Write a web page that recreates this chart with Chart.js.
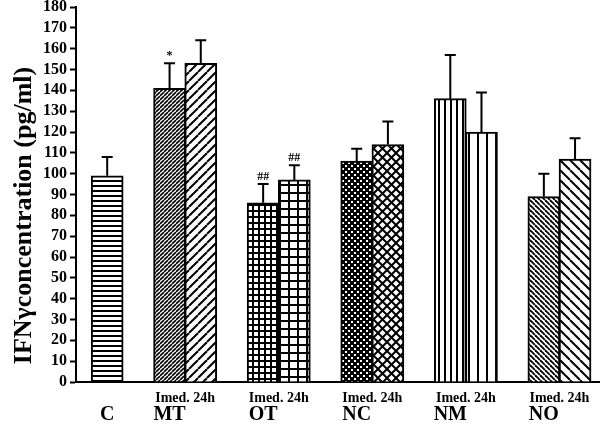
<!DOCTYPE html>
<html>
<head>
<meta charset="utf-8">
<script src="https://cdn.jsdelivr.net/npm/chart.js@4"></script>
<style>
  html, body { margin: 0; padding: 0; background: #fff; }
  canvas { display: block; }
</style>
</head>
<body>
<canvas id="ifnChart" width="600" height="433"></canvas>
<script>
// groups along the x axis; C is the single control bar
const groups = ['C', 'MT', 'OT', 'NC', 'NM', 'NO'];
const subLabel = 'Imed. 24h';

// IFN-gamma means (pg/ml) and upper SD, immediate and 24h
const imedValues = [99, 141, 86, 106, 136, 89];
const imedErrors = [9, 12, 9, 6, 21, 11];
const h24Values = [null, 153, 97, 114, 120, 107];
const h24Errors = [null, 11, 7, 11, 19, 10];

// significance marks above the error bars
const imedMarks = ['', '*', '##', '', '', ''];
const h24Marks = ['', '', '##', '', '', ''];

const yMax = 180;
const yStep = 10;
const yTitle = 'IFNγconcentration (pg/ml)';

const serif = '"Liberation Serif", "Times New Roman", serif';

/**
 * Black and white hatch fills
 */
function tile(w, h, draw) {
    const c = document.createElement('canvas');
    c.width = w;
    c.height = h;
    const g = c.getContext('2d');
    g.fillStyle = '#fff';
    g.fillRect(0, 0, w, h);
    g.fillStyle = '#000';
    g.strokeStyle = '#000';
    draw(g, w, h);
    return g.createPattern(c, 'repeat');
}

const hLines = (p, t) => tile(p, p, (g, w) => g.fillRect(0, 0, w, t));
const vLines = (p, t) => tile(p, p, (g, w, h) => g.fillRect(0, 0, t, h));
const grid = (pw, ph, t) => tile(pw, ph, (g, w, h) => {
    g.fillRect(0, 0, w, t);
    g.fillRect(0, 0, t, h);
});
const dots = (p, d) => tile(p, p, (g, w) => {
    g.fillRect(0, 0, w, w);
    g.fillStyle = '#fff';
    g.fillRect(0, 0, d, d);
    g.fillRect(w / 2, w / 2, d, d);
});
function strokeDiag(g, p, back) {
    for (let o = -p; o <= p; o += p) {
        g.beginPath();
        if (back) { g.moveTo(o, 0); g.lineTo(o + p, p); }
        else { g.moveTo(o, p); g.lineTo(o + p, 0); }
        g.stroke();
    }
}
const diag = (p, t, back) => tile(p, p, g => { g.lineWidth = t; strokeDiag(g, p, back); });
const diamonds = (p, t) => tile(p, p, g => {
    g.lineWidth = t;
    strokeDiag(g, p, false);
    strokeDiag(g, p, true);
});

const imedFills = [hLines(5, 2), diag(4, 1.6, false), grid(6, 6, 2), dots(6, 2), vLines(6, 2), diag(5, 1.8, true)];
const h24Fills = [null, diag(9, 2, false), grid(9, 8, 2), diamonds(9, 2), vLines(9, 2), diag(10, 2, true)];

// slot on the x axis: C first, then pairs with a one-slot gap
const slot = (g, k) => g === 0 ? 0 : 3 * g - 1 + k;

function series(label, values, errors, marks, fills, k) {
    const out = { label, data: [], errors: [], marks: [], backgroundColor: [] };
    values.forEach((v, g) => {
        if (v === null) return;
        out.data.push({ x: slot(g, k), y: v });
        out.errors.push(errors[g]);
        out.marks.push(marks[g]);
        out.backgroundColor.push(fills[g]);
    });
    return out;
}

// upward error bars with caps, plus significance marks
const errorBars = {
    id: 'errorBars',
    afterDatasetsDraw(chart) {
        const ctx = chart.ctx;
        const y = chart.scales.y;
        chart.data.datasets.forEach((ds, di) => {
            chart.getDatasetMeta(di).data.forEach((bar, i) => {
                const top = y.getPixelForValue(ds.data[i].y + ds.errors[i]);
                ctx.save();
                ctx.strokeStyle = '#000';
                ctx.lineWidth = 2;
                ctx.beginPath();
                ctx.moveTo(bar.x, bar.y);
                ctx.lineTo(bar.x, top);
                ctx.moveTo(bar.x - 5.5, top);
                ctx.lineTo(bar.x + 5.5, top);
                ctx.stroke();
                if (ds.marks[i]) {
                    ctx.fillStyle = '#000';
                    ctx.font = 'bold 12px ' + serif;
                    ctx.textAlign = 'center';
                    ctx.textBaseline = 'bottom';
                    ctx.fillText(ds.marks[i], bar.x, top - 1);
                }
                ctx.restore();
            });
        });
    }
};

// rotated y title, sitting a little below the middle of the axis
const axisTitle = {
    id: 'axisTitle',
    afterDraw(chart) {
        const ctx = chart.ctx;
        const area = chart.chartArea;
        ctx.save();
        ctx.translate(24, (area.top + area.bottom) / 2 + 21);
        ctx.rotate(-Math.PI / 2);
        ctx.fillStyle = '#000';
        ctx.font = 'bold 26px ' + serif;
        ctx.textAlign = 'center';
        ctx.textBaseline = 'middle';
        ctx.fillText(yTitle, 0, 0);
        ctx.restore();
    }
};

const xMin = -1;
const xMax = 15.8;

new Chart(document.getElementById('ifnChart'), {
    type: 'bar',
    data: {
        datasets: [
            series('Imed.', imedValues, imedErrors, imedMarks, imedFills, 0),
            series('24h', h24Values, h24Errors, h24Marks, h24Fills, 1)
        ]
    },
    options: {
        responsive: false,
        animation: false,
        devicePixelRatio: 1,
        layout: { padding: { top: 7, right: 0, bottom: 0, left: 0 } },
        datasets: {
            bar: {
                grouped: false,
                barThickness: 32,
                borderColor: '#000',
                borderWidth: 2
            }
        },
        plugins: {
            legend: { display: false },
            tooltip: { enabled: false }
        },
        scales: {
            x: {
                type: 'linear',
                min: xMin,
                max: xMax,
                offset: false,
                weight: 0,
                grid: { display: false, drawTicks: false },
                border: { display: true, color: '#000', width: 2 },
                afterBuildTicks: s => {
                    s.ticks = groups.slice(1).map((_, i) => ({ value: slot(i + 1, 0) + 0.5 }));
                },
                afterFit: s => { s.height = 20; },
                ticks: {
                    autoSkip: false,
                    maxRotation: 0,
                    padding: 8,
                    color: '#000',
                    font: { family: serif, size: 14, weight: 'bold' },
                    callback: () => subLabel
                }
            },
            x2: {
                type: 'linear',
                position: 'bottom',
                min: xMin,
                max: xMax,
                offset: false,
                weight: 1,
                grid: { display: false, drawTicks: false },
                border: { display: false },
                afterBuildTicks: s => {
                    s.ticks = groups.map((_, g) => ({ value: slot(g, 0) }));
                },
                afterFit: s => { s.height = 31; },
                ticks: {
                    autoSkip: false,
                    maxRotation: 0,
                    padding: 1,
                    color: '#000',
                    font: { family: serif, size: 20, weight: 'bold' },
                    callback: (v, i) => groups[i]
                }
            },
            y: {
                min: 0,
                max: yMax,
                grid: {
                    drawOnChartArea: false,
                    drawTicks: true,
                    tickLength: 6,
                    tickColor: '#000',
                    tickWidth: 2
                },
                border: { display: true, color: '#000', width: 2 },
                afterFit: s => {
                    s.width = 76;
                    s.paddingTop = 0;
                    s.paddingBottom = 0;
                },
                ticks: {
                    stepSize: yStep,
                    autoSkip: false,
                    padding: 3,
                    color: '#000',
                    font: { family: serif, size: 16, weight: 'bold' }
                }
            }
        }
    },
    plugins: [errorBars, axisTitle]
});
</script>
</body>
</html>
